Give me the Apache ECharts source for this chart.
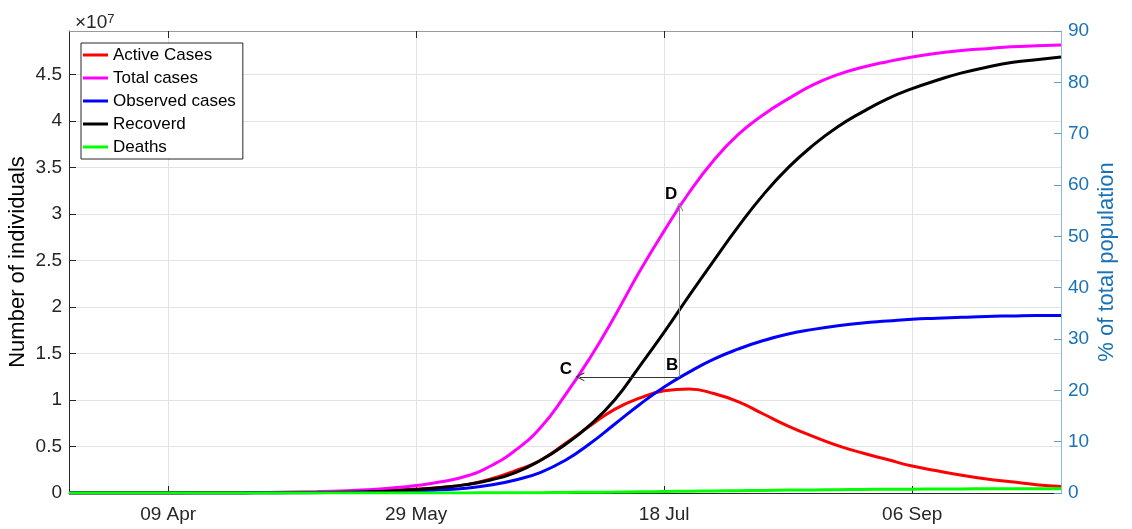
<!DOCTYPE html>
<html>
<head>
<meta charset="utf-8">
<script src="https://cdn.jsdelivr.net/npm/echarts@6/dist/echarts.min.js"></script>
<style>
  html, body { margin: 0; background: #fff; }
  #chart { width: 1132px; height: 529px; }
</style>
</head>
<body>
<div id="chart"></div>
<script>
// Days since 20 Mar, values in units of 1e7 individuals
const DAYS = [0, 5, 10, 15, 20, 25, 30, 35, 40, 45, 50, 55, 60, 65, 70, 75, 80, 85, 90, 95,
  100, 105, 110, 115, 120, 125, 130, 135, 140, 145, 150, 155, 160, 165, 170, 175, 180, 185, 190, 195, 200]

const ACTIVE = [0, 0.0002, 0.0004, 0.0007, 0.0009, 0.0015, 0.0023, 0.0033, 0.005, 0.007, 0.010, 0.015, 0.022, 0.031, 0.042, 0.06, 0.09, 0.15, 0.24, 0.35,
  0.53, 0.72, 0.90, 1.02, 1.10, 1.12, 1.07, 0.98, 0.85, 0.72, 0.61, 0.51, 0.43, 0.36, 0.29, 0.24, 0.19, 0.15, 0.12, 0.09, 0.07]
const TOTAL = [0, 0.0002, 0.0004, 0.0007, 0.001, 0.0017, 0.0027, 0.004, 0.006, 0.009, 0.014, 0.022, 0.034, 0.053, 0.08, 0.12, 0.18, 0.29, 0.46, 0.70,
  1.05, 1.45, 1.90, 2.38, 2.82, 3.23, 3.58, 3.86, 4.07, 4.24, 4.39, 4.50, 4.58, 4.64, 4.69, 4.73, 4.76, 4.78, 4.80, 4.81, 4.82]
const OBSERVED = [0, 0, 0.0001, 0.0002, 0.0003, 0.0005, 0.0008, 0.0012, 0.0018, 0.0028, 0.0042, 0.0065, 0.010, 0.015, 0.023, 0.034, 0.052, 0.085, 0.14, 0.22,
  0.35, 0.53, 0.74, 0.95, 1.14, 1.30, 1.44, 1.55, 1.64, 1.71, 1.76, 1.80, 1.83, 1.85, 1.87, 1.88, 1.89, 1.90, 1.905, 1.91, 1.91]
const RECOVERED = [0, 0, 0, 0, 0.0001, 0.0002, 0.0004, 0.0007, 0.001, 0.002, 0.004, 0.007, 0.012, 0.022, 0.038, 0.06, 0.09, 0.14, 0.22, 0.35,
  0.52, 0.73, 1.00, 1.36, 1.73, 2.12, 2.50, 2.87, 3.21, 3.50, 3.74, 3.94, 4.10, 4.24, 4.35, 4.44, 4.52, 4.58, 4.63, 4.66, 4.69]
const DEATHS = [0, 0, 0, 0, 0, 0, 0, 0, 0, 0.0001, 0.0001, 0.0002, 0.0002, 0.0003, 0.0005, 0.0008, 0.0012, 0.002, 0.003, 0.004,
  0.006, 0.008, 0.010, 0.013, 0.016, 0.019, 0.022, 0.025, 0.028, 0.031, 0.033, 0.036, 0.038, 0.040, 0.041, 0.043, 0.044, 0.045, 0.046, 0.046, 0.047]

const XTICKS = [20, 70, 120, 170]
const XLABELS = ['09 Apr', '29 May', '18 Jul', '06 Sep']

// annotation points B, C, D
const ANNOT_NAMES = ['B', 'C', 'D']
const ANNOT_X = [123, 103, 123]
const ANNOT_Y = [1.25, 1.25, 3.08]

const FONT = '"Liberation Sans", Arial, Helvetica, sans-serif'
const INK = '#262626'
const RIGHT = '#1a72b6'

const mk = (name, color, vals) => ({
  name, type: 'line', data: DAYS.map((d, i) => [d, vals[i]]),
  smooth: true, showSymbol: false, symbol: 'none',
  lineStyle: { color, width: 3 }, itemStyle: { color },
})

const pt = (i) => [ANNOT_X[i], ANNOT_Y[i]]
const CHEVRON = 'path://M5,0 L10,10 L8.8,10 L5,2.6 L1.2,10 L0,10 Z'

const obs = mk('Observed cases', '#0000ff', OBSERVED)
obs.markLine = {
  silent: true, symbol: ['none', CHEVRON], symbolSize: 9, label: { show: false },
  lineStyle: { type: 'solid', width: 1, color: '#555' },
  emphasis: { disabled: true },
  data: [
    [{ coord: pt(0), lineStyle: { color: '#333' } }, { coord: pt(1), lineStyle: { color: '#333' } }],
    [{ coord: pt(0), lineStyle: { color: '#8a8a8a' } }, { coord: pt(2), lineStyle: { color: '#8a8a8a' } }],
  ],
}
const LABEL_OFFSETS = [[-7, -11], [-14, -7], [-8, -12]]
obs.markPoint = {
  silent: true, symbol: 'circle', symbolSize: 0,
  label: { show: true, formatter: '{b}', color: '#000', fontWeight: 'bold', fontSize: 17, fontFamily: FONT },
  data: ANNOT_NAMES.map((n, i) => ({ name: n, coord: pt(i), label: { offset: LABEL_OFFSETS[i] } })),
}

const chart = echarts.init(document.getElementById('chart'))
chart.setOption({
  animation: false,
  textStyle: { fontFamily: FONT },
  title: {
    text: '{a|×10}{s|7}', left: 70, top: 8,
    textStyle: {
      fontWeight: 'normal',
      rich: {
        a: { fontSize: 19, color: INK, fontWeight: 'normal', fontFamily: FONT },
        s: { fontSize: 13, color: INK, fontWeight: 'normal', verticalAlign: 'top', fontFamily: FONT },
      },
    },
  },
  grid: { left: 69, right: 71, top: 31, bottom: 36, outerBoundsMode: 'none', containLabel: false },
  legend: {
    orient: 'vertical', left: 81, top: 43, icon: 'rect', itemWidth: 25, itemHeight: 3, itemGap: 5,
    padding: [3, 7, 3, 2], borderColor: '#262626', borderWidth: 1, backgroundColor: '#fff',
    textStyle: { fontSize: 17, color: '#000', lineHeight: 18, fontFamily: FONT },
    data: ['Active Cases', 'Total cases', 'Observed cases', 'Recoverd', 'Deaths'],
  },
  xAxis: [
    {
      type: 'value', min: 0, max: 200, position: 'bottom',
      axisLine: { lineStyle: { color: INK } },
      axisTick: { show: true, inside: true, length: 7, customValues: XTICKS, lineStyle: { color: INK } },
      axisLabel: {
        customValues: XTICKS, formatter: (v) => XLABELS[XTICKS.indexOf(v)],
        color: INK, fontSize: 19, margin: 12, fontFamily: FONT,
      },
      splitLine: { show: true, lineStyle: { color: '#e3e3e3' } },
    },
    {
      type: 'value', min: 0, max: 200, position: 'top',
      axisLine: { show: true, onZero: false, lineStyle: { color: '#9a9a9a' } },
      axisTick: { show: true, inside: true, length: 7, customValues: XTICKS, lineStyle: { color: INK } },
      axisLabel: { show: false }, splitLine: { show: false },
    },
  ],
  yAxis: [
    {
      type: 'value', min: 0, max: 4.97, interval: 0.5, position: 'left',
      name: 'Number of individuals', nameLocation: 'middle', nameGap: 40, nameMoveOverlap: false,
      nameTextStyle: { fontSize: 22, color: '#000', fontFamily: FONT },
      axisLine: { show: true, onZero: false, lineStyle: { color: INK } },
      axisTick: { show: true, inside: true, length: 7, lineStyle: { color: INK } },
      axisLabel: { color: INK, fontSize: 19, margin: 7, showMaxLabel: false, fontFamily: FONT },
      splitLine: { show: true, lineStyle: { color: '#e3e3e3' } },
    },
    {
      type: 'value', min: 0, max: 90, interval: 10, position: 'right',
      name: '% of total population', nameLocation: 'middle', nameGap: 35, nameRotate: 90, nameMoveOverlap: false,
      nameTextStyle: { fontSize: 22, color: RIGHT, fontFamily: FONT },
      axisLine: { show: true, onZero: false, lineStyle: { color: '#8dbad9' } },
      axisTick: { show: true, inside: true, length: 7, lineStyle: { color: '#5d9ccb' } },
      axisLabel: { color: RIGHT, fontSize: 19, margin: 7, fontFamily: FONT },
      splitLine: { show: false },
    },
  ],
  series: [
    mk('Active Cases', '#ff0000', ACTIVE),
    mk('Total cases', '#ff00ff', TOTAL),
    obs,
    mk('Recoverd', '#000000', RECOVERED),
    mk('Deaths', '#00ff00', DEATHS),
  ],
})
</script>
</body>
</html>
